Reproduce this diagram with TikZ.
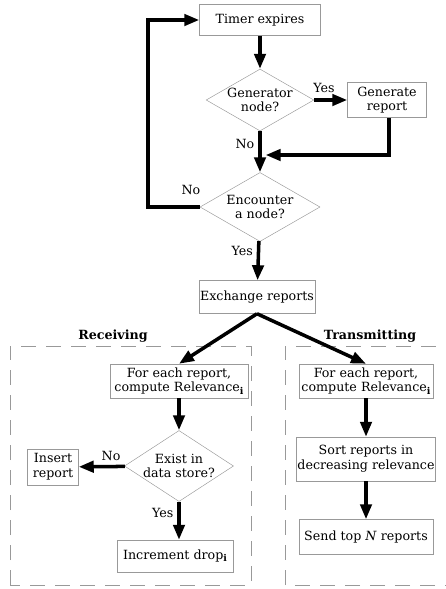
\documentclass[tikz,border=0pt]{standalone}
\usepackage{fontspec}
\setmainfont{DejaVu Serif}
\usepackage{tikz}
\usetikzlibrary{arrows.meta,positioning,shapes.geometric}
\newcommand{\lowi}{\raisebox{-0.35ex}{\footnotesize\bfseries i}}
\tikzset{
  stepbox/.style={draw=gray!80, thin, align=center, inner sep=1pt,
                  font=\fontsize{10.8}{12.5}\selectfont},
  decision/.style={diamond, draw=gray!80, thin, align=center, inner sep=0pt,
                   font=\fontsize{10.8}{12.5}\selectfont},
  flow/.style={-{Triangle[length=4.5mm,width=3.4mm]}, line width=3pt},
  lbl/.style={font=\fontsize{10.8}{12.5}\selectfont},
  group/.style={draw=gray!80, thin, dash pattern=on 4.5mm off 3mm},
  grouplbl/.style={font=\bfseries\fontsize{10.8}{12.5}\selectfont}
}

\begin{document}
\begin{tikzpicture}[x=0.03cm, y=-0.03cm]
  \useasboundingbox (0,0) rectangle (445,589);
  % groups
  \draw[group] (10,585) -- (10,346) -- (251,346) -- (251,585) -- cycle;
  \draw[group] (460,585) -- (285,585) -- (285,346) -- (460,346);
  \node[grouplbl] (recv) at (113,336) {Receiving};
  \node[grouplbl] (trans) at (370,336) {Transmitting};
  % main loop
  \node[stepbox, minimum width=3.63cm, minimum height=0.93cm] (timer) at (260,20) {Timer expires};
  \node[decision, minimum width=3.18cm, minimum height=1.83cm, shape aspect=1.74] (gen) at (260,100) {Generator\\node?};
  \node[stepbox, minimum width=2.37cm, minimum height=1.05cm] (genrep) at (387,100) {Generate\\report};
  \node[decision, minimum width=3.6cm, minimum height=2.07cm, shape aspect=1.74] (enc) at (260,207) {Encounter\\a node?};
  \node[stepbox, minimum width=3.45cm, minimum height=0.99cm] (xchg) at (257,297) {Exchange reports};
  \coordinate (join) at (260,155);
  \coordinate (loop) at (148,20);
  % receiving
  \node[stepbox, minimum width=4.14cm, minimum height=1.02cm] (relrx) at (179,381) {For each report,\\compute Relevance\lowi};
  \node[decision, minimum width=3.27cm, minimum height=2.13cm, shape aspect=1.54] (exist) at (179,466) {Exist in\\data store?};
  \node[stepbox, minimum width=1.53cm, minimum height=1.08cm] (ins) at (53,467) {Insert\\report};
  \node[stepbox, minimum width=3.48cm, minimum height=0.96cm] (incr) at (175,556) {Increment drop\lowi};
  % transmitting
  \node[stepbox, minimum width=4.02cm, minimum height=1.02cm] (reltx) at (366,381) {For each report,\\compute Relevance\lowi};
  \node[stepbox, minimum width=4.02cm, minimum height=1.32cm] (sort) at (366,459) {Sort reports in\\decreasing relevance};
  \node[stepbox, minimum width=4.02cm, minimum height=1.05cm] (send) at (366,537) {Send top \textit{N} reports};
  % connectors
  \draw[flow] (timer) -- (gen);
  \draw[flow] (gen) -- node[lbl, above, pos=0.3, yshift=1pt] {Yes} (genrep);
  \draw[flow] (gen) -- node[lbl, left, pos=0.3] {No} (enc);
  \draw[flow] (genrep.south -| 389,0) |- ([xshift=1.7mm]join);
  \draw[flow] (enc.west) -- (enc.west -| loop) -- (loop) -- (timer.west);
  \node[lbl] (no2) at (191,190) {No};
  \draw[flow] (enc) -- node[lbl, left, pos=0.25] {Yes} (xchg);
  \draw[flow] (xchg.south) -- (relrx.north);
  \draw[flow] (xchg.south) -- (reltx.north);
  \draw[flow] (relrx) -- (exist);
  \draw[flow] (exist) -- node[lbl, above, pos=0.3] {No} (ins);
  \draw[flow] (exist.south) -- node[lbl, left, pos=0.3] {Yes} (exist.south |- incr.north);
  \draw[flow] (reltx) -- (sort);
  \draw[flow] (sort) -- (send);
\end{tikzpicture}
\end{document}
